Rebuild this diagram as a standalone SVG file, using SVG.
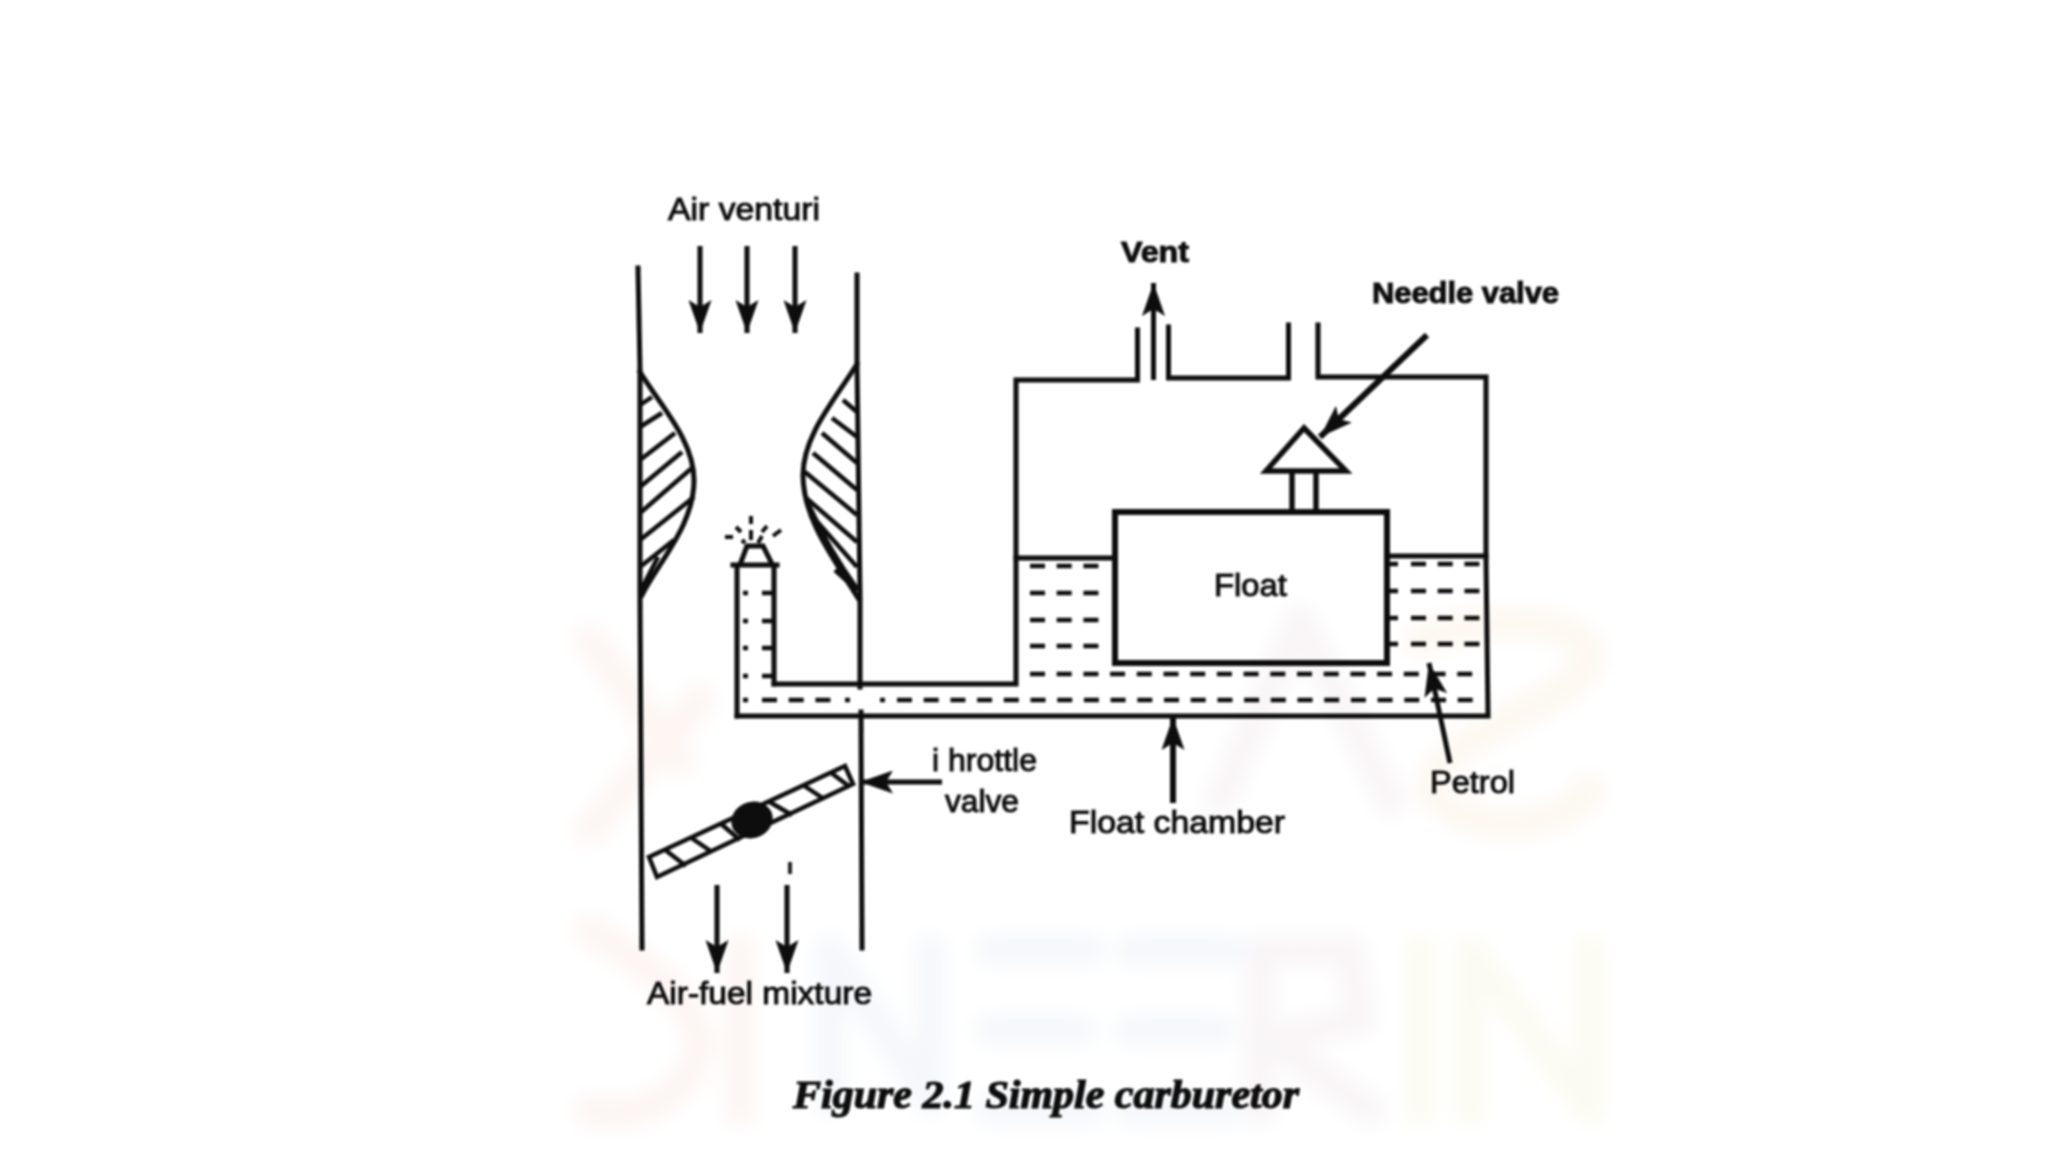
<svg xmlns="http://www.w3.org/2000/svg" width="2048" height="1152" viewBox="0 0 2048 1152">
<style>
.l{fill:none;stroke:#0c0c0c;stroke-width:5;stroke-linecap:square;stroke-linejoin:miter}
.h{fill:none;stroke:#0c0c0c;stroke-width:4.500}
.d{fill:none;stroke:#0c0c0c;stroke-width:4.500;stroke-dasharray:15 11.700}
.a{fill:none;stroke:#0c0c0c;stroke-width:5}
.t{font-family:"Liberation Sans",Arial,sans-serif;font-size:31px;fill:#111;stroke:#111;stroke-width:1}
.b{font-weight:bold;font-size:29px}
.c{font-family:"Liberation Serif","Times New Roman",serif;font-size:39px;font-weight:bold;font-style:italic;fill:#0c0c0c;stroke:#0c0c0c;stroke-width:1.200}
.w{fill:none;stroke-width:32;stroke-linecap:round;stroke-linejoin:round}
</style>
<defs>
<marker id="ah" markerUnits="userSpaceOnUse" markerWidth="33" markerHeight="23" refX="33" refY="11.500" viewBox="0 0 33 23" orient="auto"><path d="M0 0 L7 11.500 L0 23 L33 11.500 Z" fill="#0c0c0c"/></marker>
<filter id="soft" x="-5%" y="-5%" width="110%" height="110%"><feGaussianBlur stdDeviation="0.8"/></filter>
<filter id="haze" x="-5%" y="-5%" width="110%" height="110%"><feGaussianBlur stdDeviation="9"/></filter>
</defs>
<rect width="2048" height="1152" fill="#fff"/>
<g id="watermark" filter="url(#haze)">
<path class="w" stroke="#fdf6f3" d="M590 640L680 760M590 830L700 700M590 930C640 960 700 1000 700 1050C680 1110 620 1120 590 1110M740 950V1110"/>
<path class="w" stroke="#fdf8f1" d="M1420 640C1500 610 1590 620 1590 660C1550 720 1440 730 1430 790C1470 840 1560 830 1590 790"/>
<path class="w" stroke="#f5f8fb" d="M830 1100V950L930 1100V950M990 950H1090M990 1030H1080M990 1110H1090M1130 950H1230M1130 1030H1220M1130 1110H1230"/>
<path class="w" stroke="#f9f6f8" d="M1260 1110V950H1350L1360 1020L1270 1040L1370 1110M1220 800L1300 620L1390 800"/>
<path class="w" stroke="#fcfbf3" d="M1420 950V1110M1470 1110V950L1590 1110V950"/>
</g>
<g filter="url(#soft)">
<g id="connectors">
<path class="a" marker-end="url(#ah)" d="M700 246V333"/>
<path class="a" marker-end="url(#ah)" d="M747 246V333"/>
<path class="a" marker-end="url(#ah)" d="M795 246V333"/>
<path class="a" marker-end="url(#ah)" d="M717 885V973"/>
<path class="a" marker-end="url(#ah)" d="M787 885V973"/>
<path class="a" marker-end="url(#ah)" d="M1153.500 380V283"/>
<path class="a" style="stroke-width:6" marker-end="url(#ah)" d="M1427 335L1320 437"/>
<path class="a" marker-end="url(#ah)" d="M942 782H860"/>
<path class="a" style="stroke-width:6" marker-end="url(#ah)" d="M1173 803V717"/>
<path class="a" marker-end="url(#ah)" d="M1450 763L1429 663"/>
</g>
<g id="venturi">
<path class="l" d="M638 268L640 370V595L642 948"/>
<path class="l" d="M857 275V362L860 598V687M861 712L862 948"/>
<path class="l" d="M640 372C660 405 694 440 694 480C694 525 660 560 642 595"/>
<path class="l" d="M857 364C835 400 803 435 803 475C803 520 835 560 858 598"/>
<path class="h" d="M809 505C822 535 840 565 858 590"/>
<path class="h" d="M640 405L652 397M640 427L662 413M640 460L675 433M640 487L682 452M640 513L692 468M640 540L694 497M640 567L674 540M640 592L658 557"/>
<path class="h" d="M857 412L843 400M857 437L832 418M857 463L822 433M857 490L813 453M857 515L805 472M857 542L805 497M857 567L813 517M857 590L835 570"/>
</g>
<g id="nozzle">
<path class="l" d="M733 565H777M737 565V716M774 565V684M741 562L747 546H763L771 562"/>
<path class="h" style="stroke-width:4" d="M751 516V524M736 527L741 532M767 526L762 532M725 537H733M781 530L773 536M751 530V540M745 540L742 543M762 536L758 543"/>
</g>
<g id="chamber">
<path class="l" d="M737 716H1488M774 684H1016V380H1137.500V330M1168.500 327V378H1288.500V325M1318 325V377H1486V556L1488 716"/>
<path class="l" d="M1016 558H1115M1387 556H1486"/>
</g>
<g id="float">
<rect class="l" style="stroke-width:6" x="1115" y="512" width="272" height="151"/>
<text class="t" x="1214" y="596" textLength="73" lengthAdjust="spacingAndGlyphs">Float</text>
</g>
<g id="needle">
<path class="l" style="stroke-width:5.500" d="M1304 428L1346 471H1266ZM1292 471V512M1316 471V512"/>
</g>
<g id="petrol">
<path class="d" d="M1030 566H1100M1030 593H1100M1030 620H1100M1030 646H1100"/>
<path class="d" d="M1411 564H1480M1411 591H1480M1411 618H1480M1411 644H1480M1389 564H1398M1389 591H1398M1389 618H1398M1389 644H1398"/>
<path class="d" d="M1030 674H1480"/>
<path class="d" d="M762 700H835M897 700H1480"/>
<path class="d" style="stroke-dasharray:none" d="M743 593H748M743 621H748M743 648H748M743 676H748M743 700H748M845 700H850M880 700H885"/>
<path class="d" style="stroke-dasharray:none" d="M762 593H772M762 621H772M762 648H772M762 676H772"/>
</g>
<g id="throttle">
<path class="l" style="stroke-width:4.500" d="M649 857L845 766L853 784L657 877Z"/>
<path class="h" d="M664 849L686 866M690 837L712 852M720 823L740 840M768 801L792 815M803 785L824 799M830 772L850 787"/>
<ellipse cx="752" cy="820" rx="21" ry="18" fill="#0a0a0a" transform="rotate(-20 752 820)"/>
<rect x="788" y="862" width="4" height="12" fill="#222"/>
</g>
<g id="labels">
<text class="t" x="668" y="220" textLength="152" lengthAdjust="spacingAndGlyphs">Air venturi</text>
<text class="t b" x="1121" y="262" textLength="68" lengthAdjust="spacingAndGlyphs">Vent</text>
<text class="t b" x="1372" y="303" textLength="187" lengthAdjust="spacingAndGlyphs">Needle valve</text>
<text class="t" x="932" y="771" textLength="105" lengthAdjust="spacingAndGlyphs">i hrottle</text>
<text class="t" x="945" y="812" textLength="74" lengthAdjust="spacingAndGlyphs">valve</text>
<text class="t" x="647" y="1004" textLength="225" lengthAdjust="spacingAndGlyphs">Air-fuel mixture</text>
<text class="t" x="1069" y="833" textLength="216" lengthAdjust="spacingAndGlyphs">Float chamber</text>
<text class="t" x="1430" y="793" textLength="85" lengthAdjust="spacingAndGlyphs">Petrol</text>
<text class="c" x="793" y="1108" textLength="506" lengthAdjust="spacingAndGlyphs">Figure 2.1 Simple carburetor</text>
</g>
</g>
</svg>
